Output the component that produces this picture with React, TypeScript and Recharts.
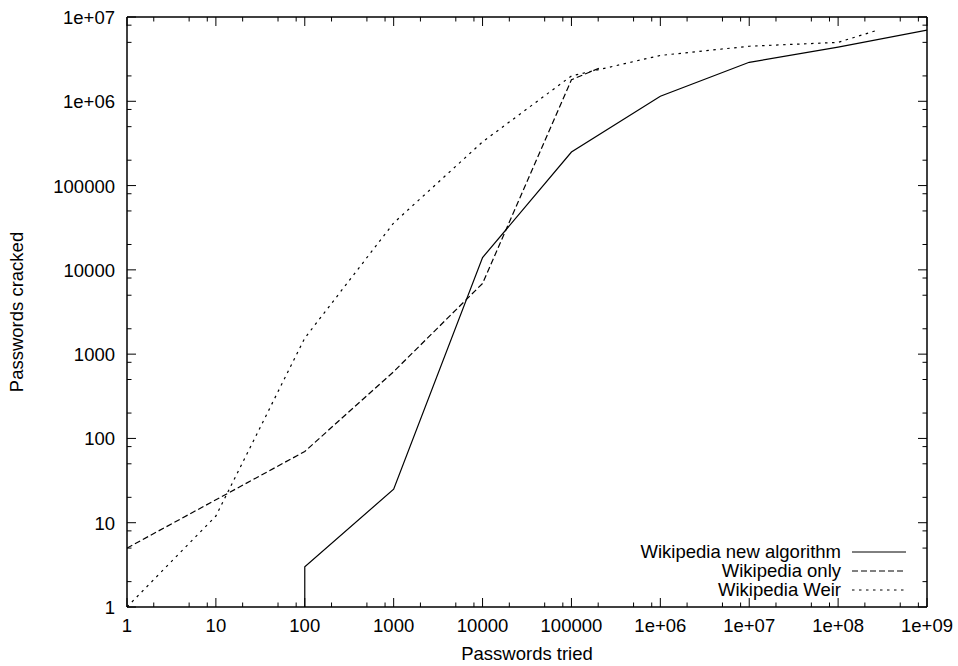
import { LineChart, Line, XAxis, YAxis, Legend, Label, ReferenceLine } from 'recharts'

// gnuplot-style log/log plot of cracking progress

const FONT = '"Liberation Sans", Arial, Helvetica, sans-serif'
const FS = 18.5
const W = 958
const H = 666
const M = { top: 17, right: 31, bottom: 0, left: 0 }
const PLOT_TOP = M.top
const PLOT_RIGHT = W - M.right

const xMajorTicks = [1, 10, 100, 1000, 10000, 100000, 1e6, 1e7, 1e8, 1e9]
const xTickLabels = ['1', '10', '100', '1000', '10000', '100000', '1e+06', '1e+07', '1e+08', '1e+09']
const yMajorTicks = [1, 10, 100, 1000, 10000, 100000, 1e6, 1e7]
const yTickLabels = ['1', '10', '100', '1000', '10000', '100000', '1e+06', '1e+07']
const minorSteps = [2, 5, 8]

const seriesNames = ['Wikipedia new algorithm', 'Wikipedia only', 'Wikipedia Weir']
const seriesDashes = [undefined, '6 3', '2.5 4.5']

const newAlgoTried = [100, 100, 1000, 10000, 100000, 1e6, 1e7, 1e8, 1e9]
const newAlgoCracked = [1, 3, 25, 14000, 250000, 1150000, 2900000, 4400000, 7000000]

const wikiOnlyTried = [1, 100, 1000, 10000, 100000, 210000]
const wikiOnlyCracked = [5, 70, 620, 6900, 1800000, 2500000]

const weirTried = [1, 10, 100, 1000, 10000, 100000, 1e6, 1e7, 1e8, 2.8e8]
const weirCracked = [1, 12, 1550, 36000, 330000, 2000000, 3500000, 4500000, 5000000, 7000000]

const zip = (xs: number[], ys: number[]) => xs.map((x, i) => ({ x, y: ys[i] }))

const withMinor = (majors: number[]) => {
  const out: number[] = []
  majors.forEach((d, i) => {
    out.push(d)
    if (i < majors.length - 1) minorSteps.forEach((m) => out.push(d * m))
  })
  return out
}
const xTicks = withMinor(xMajorTicks)
const yTicks = withMinor(yMajorTicks)

const MAJOR = 9
const MINOR = 4.5

// bottom ticks also mirror onto the top border (gnuplot style)
function BottomTick(props: any) {
  const { x, y, payload } = props
  const i = xMajorTicks.indexOf(payload.value)
  const len = i >= 0 ? MAJOR : MINOR
  return (
    <g>
      <line x1={x} x2={x} y1={y} y2={y - len} stroke="#000" />
      <line x1={x} x2={x} y1={PLOT_TOP} y2={PLOT_TOP + len} stroke="#000" />
      {i >= 0 && (
        <text x={x} y={y + 25} textAnchor="middle" fontFamily={FONT} fontSize={FS} fill="#000">
          {xTickLabels[i]}
        </text>
      )}
    </g>
  )
}

// left ticks also mirror onto the right border
function LeftTick(props: any) {
  const { x, y, payload } = props
  const i = yMajorTicks.indexOf(payload.value)
  const len = i >= 0 ? MAJOR : MINOR
  return (
    <g>
      <line x1={x} x2={x + len} y1={y} y2={y} stroke="#000" />
      <line x1={PLOT_RIGHT} x2={PLOT_RIGHT - len} y1={y} y2={y} stroke="#000" />
      {i >= 0 && (
        <text x={x - 12} y={y + 7} textAnchor="end" fontFamily={FONT} fontSize={FS} fill="#000">
          {yTickLabels[i]}
        </text>
      )}
    </g>
  )
}

function LegendBox() {
  return (
    <div style={{ fontFamily: FONT, fontSize: FS, color: '#000' }}>
      {seriesNames.map((name, i) => (
        <div
          key={name}
          style={{ display: 'flex', justifyContent: 'flex-end', alignItems: 'center', height: 19 }}
        >
          <span style={{ marginRight: 11, lineHeight: '19px' }}>{name}</span>
          <svg width={54} height={4} style={{ display: 'block' }}>
            <line x1={0} x2={54} y1={2} y2={2} stroke="#000" strokeDasharray={seriesDashes[i]} />
          </svg>
        </div>
      ))}
    </div>
  )
}

const border = { stroke: '#000', strokeWidth: 1.5 }

export default function App() {
  return (
    <div style={{ position: 'absolute', left: 0, top: 0, background: '#fff' }}>
      <LineChart width={W} height={H} margin={M}>
        <XAxis
          dataKey="x"
          type="number"
          scale="log"
          domain={[1, 1e9]}
          allowDataOverflow
          ticks={xTicks}
          interval={0}
          tickSize={0}
          tickMargin={0}
          tickLine={false}
          tick={<BottomTick />}
          axisLine={border}
          height={59}
        >
          <Label value="Passwords tried" position="insideBottom" offset={6} fill="#000" fontSize={FS} fontFamily={FONT} />
        </XAxis>
        <YAxis
          type="number"
          scale="log"
          domain={[1, 1e7]}
          allowDataOverflow
          ticks={yTicks}
          interval={0}
          tickSize={0}
          tickMargin={0}
          tickLine={false}
          tick={<LeftTick />}
          axisLine={border}
          width={127}
        >
          <Label
            value="Passwords cracked"
            position="insideLeft"
            angle={-90}
            offset={16}
            fill="#000"
            fontSize={FS}
            fontFamily={FONT}
            style={{ textAnchor: 'middle' }}
          />
        </YAxis>
        {/* top and right border */}
        <ReferenceLine y={1e7} stroke="#000" strokeWidth={1.5} ifOverflow="visible" />
        <ReferenceLine x={1e9} stroke="#000" strokeWidth={1.5} ifOverflow="visible" />
        <Line
          data={zip(newAlgoTried, newAlgoCracked)}
          dataKey="y"
          name={seriesNames[0]}
          type="linear"
          stroke="#000"
          strokeWidth={1.2}
          dot={false}
          isAnimationActive={false}
        />
        <Line
          data={zip(wikiOnlyTried, wikiOnlyCracked)}
          dataKey="y"
          name={seriesNames[1]}
          type="linear"
          stroke="#000"
          strokeWidth={1.2}
          strokeDasharray={seriesDashes[1]}
          dot={false}
          isAnimationActive={false}
        />
        <Line
          data={zip(weirTried, weirCracked)}
          dataKey="y"
          name={seriesNames[2]}
          type="linear"
          stroke="#000"
          strokeWidth={1.2}
          strokeDasharray={seriesDashes[2]}
          dot={false}
          isAnimationActive={false}
        />
        <Legend
          layout="vertical"
          align="center"
          verticalAlign="middle"
          content={<LegendBox />}
          wrapperStyle={{ left: 556, top: 542, width: 350 }}
        />
      </LineChart>
    </div>
  )
}
